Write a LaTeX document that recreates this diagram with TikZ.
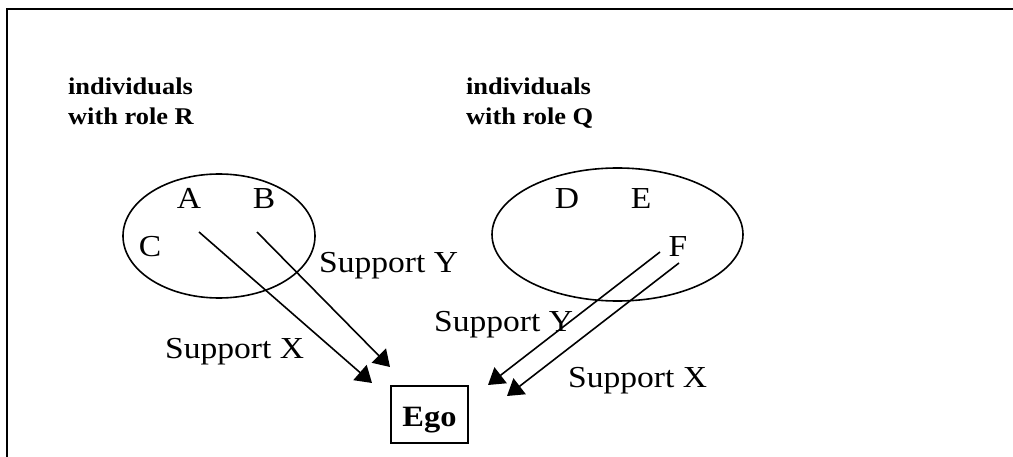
\documentclass[tikz,border=0pt]{standalone}
\usepackage{fontspec}
\setmainfont{Liberation Serif}
\usepackage{graphicx}
\usetikzlibrary{arrows.meta}
\usetikzlibrary{shapes.geometric}

\newcommand{\wide}[1]{\scalebox{1.1}[1]{#1}}

\begin{document}
\begin{tikzpicture}[x=1pt,y=-1pt,line width=1.6pt,
    member/.style={anchor=base,font=\fontsize{30.5}{36}\selectfont},
    support/.style={anchor=base west,font=\fontsize{30.5}{36}\selectfont},
    rolelabel/.style={anchor=base west,font=\fontsize{24}{30}\selectfont\bfseries},
    group/.style={draw,ellipse,inner sep=0pt},
    link/.style={-{Triangle[length=16pt,width=20pt]}}]
    \useasboundingbox (0,0) rectangle (1013,457);
    % frame
    \draw[line width=2.5pt] (7,457) -- (7,9) -- (1013,9);

    % role labels
    \node[rolelabel] (labR1) at (64,95) {\wide{individuals}};
    \node[rolelabel] (labR2) at (64,125) {\wide{with role R}};
    \node[rolelabel] (labQ1) at (462,95) {\wide{individuals}};
    \node[rolelabel] (labQ2) at (462,125) {\wide{with role Q}};

    % groups
    \node[group,minimum width=192pt,minimum height=124pt] (grpR) at (219,236) {};
    \node[group,minimum width=251pt,minimum height=133pt] (grpQ) at (617.5,234.5) {};

    \node[member] (A) at (189,209) {\wide{A}};
    \node[member] (B) at (264,209) {\wide{B}};
    \node[member] (C) at (150,257) {\wide{C}};
    \node[member] (D) at (567,209) {\wide{D}};
    \node[member] (E) at (641,209) {\wide{E}};
    \node[member] (F) at (678,257) {\wide{F}};

    % ego
    \node[draw,minimum width=77pt,minimum height=57pt,inner sep=0pt,
          text height=27pt,text depth=4pt,
          font=\fontsize{29.5}{34}\selectfont\bfseries] (ego) at (429.5,414.5) {\wide{Ego}};

    % support links
    \coordinate (fromA) at (199,232);
    \coordinate (fromB) at (257,232);
    \coordinate (fromF1) at (660,252);
    \coordinate (fromF2) at (679,263);
    \coordinate (toX1) at (372,383);
    \coordinate (toY1) at (390,367);
    \coordinate (toY2) at (488,385);
    \coordinate (toX2) at (507,396);
    \draw[link] (fromA) -- (toX1); %X
    \draw[link] (fromB) -- (toY1); %Y
    \draw[link] (fromF1) -- (toY2); %Y
    \draw[link] (fromF2) -- (toX2); %X

    \node[support] (supX1) at (161,359) {\wide{Support X}};
    \node[support] (supY1) at (315,273) {\wide{Support Y}};
    \node[support] (supY2) at (430,332) {\wide{Support Y}};
    \node[support] (supX2) at (564,388) {\wide{Support X}};
\end{tikzpicture}
\end{document}
